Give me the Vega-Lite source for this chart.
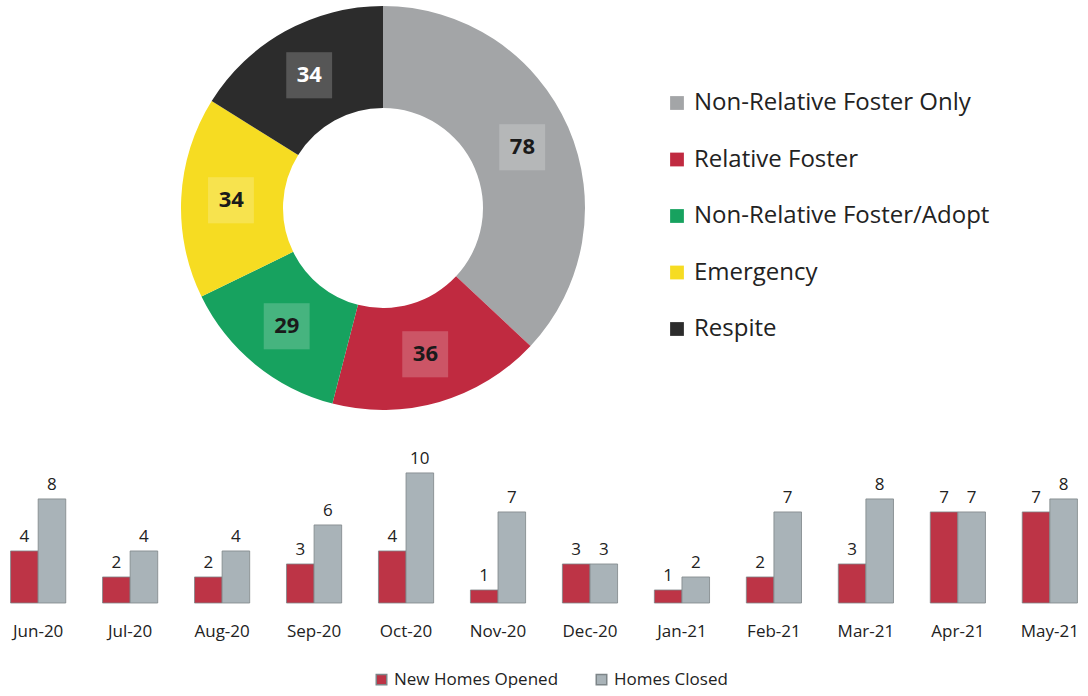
{
  "$schema": "https://vega.github.io/schema/vega-lite/v6.json",
  "padding": 0,
  "spacing": 27,
  "background": "white",
  "config": {"view": {"stroke": null}, "font": "Open Sans"},
  "resolve": {"scale": {"color": "independent"}, "legend": {"color": "independent"}},
  "vconcat": [
    {
      "width": 766,
      "height": 416,
      "data": {"values": [
        {"type": "Non-Relative Foster Only", "count": 78, "order": 1},
        {"type": "Relative Foster", "count": 36, "order": 2},
        {"type": "Non-Relative Foster/Adopt", "count": 29, "order": 3},
        {"type": "Emergency", "count": 34, "order": 4},
        {"type": "Respite", "count": 34, "order": 5}
      ]},
      "encoding": {
        "theta": {"field": "count", "type": "quantitative", "stack": true},
        "order": {"field": "order", "type": "quantitative"}
      },
      "layer": [
        {
          "mark": {"type": "arc", "outerRadius": 202, "innerRadius": 100},
          "encoding": {
            "color": {
              "field": "type", "type": "nominal",
              "sort": ["Non-Relative Foster Only", "Relative Foster", "Non-Relative Foster/Adopt", "Emergency", "Respite"],
              "scale": {
                "domain": ["Non-Relative Foster Only", "Relative Foster", "Non-Relative Foster/Adopt", "Emergency", "Respite"],
                "range": ["#a3a5a7", "#c02a40", "#17a25f", "#f6dc22", "#2c2c2c"]
              },
              "legend": {
                "title": null,
                "orient": "none",
                "direction": "vertical",
                "legendX": 665,
                "legendY": 91,
                "symbolType": "square",
                "symbolSize": 190,
                "symbolStrokeWidth": 0,
                "labelFontSize": 24,
                "labelFont": "Open Sans",
                "labelColor": "#222222",
                "labelLimit": 420,
                "rowPadding": 32.5,
                "labelOffset": 5
              }
            }
          }
        },
        {
          "mark": {"type": "text", "radius": 152, "text": "■", "font": "DejaVu Sans", "fontSize": 60, "color": "white", "opacity": 0.2, "dy": -2},
          "encoding": {}
        },
        {
          "mark": {"type": "text", "radius": 152, "fontSize": 22, "fontWeight": "bold", "font": "Open Sans"},
          "encoding": {
            "text": {"field": "count", "type": "quantitative"},
            "color": {
              "condition": {"test": "datum.type === 'Respite'", "value": "white"},
              "value": "#1a1a1a"
            }
          }
        }
      ]
    },
    {
      "width": 1088,
      "height": 160,
      "data": {"values": [
        {"month": "Jun-20", "series": "New Homes Opened", "value": 4},
        {"month": "Jun-20", "series": "Homes Closed", "value": 8},
        {"month": "Jul-20", "series": "New Homes Opened", "value": 2},
        {"month": "Jul-20", "series": "Homes Closed", "value": 4},
        {"month": "Aug-20", "series": "New Homes Opened", "value": 2},
        {"month": "Aug-20", "series": "Homes Closed", "value": 4},
        {"month": "Sep-20", "series": "New Homes Opened", "value": 3},
        {"month": "Sep-20", "series": "Homes Closed", "value": 6},
        {"month": "Oct-20", "series": "New Homes Opened", "value": 4},
        {"month": "Oct-20", "series": "Homes Closed", "value": 10},
        {"month": "Nov-20", "series": "New Homes Opened", "value": 1},
        {"month": "Nov-20", "series": "Homes Closed", "value": 7},
        {"month": "Dec-20", "series": "New Homes Opened", "value": 3},
        {"month": "Dec-20", "series": "Homes Closed", "value": 3},
        {"month": "Jan-21", "series": "New Homes Opened", "value": 1},
        {"month": "Jan-21", "series": "Homes Closed", "value": 2},
        {"month": "Feb-21", "series": "New Homes Opened", "value": 2},
        {"month": "Feb-21", "series": "Homes Closed", "value": 7},
        {"month": "Mar-21", "series": "New Homes Opened", "value": 3},
        {"month": "Mar-21", "series": "Homes Closed", "value": 8},
        {"month": "Apr-21", "series": "New Homes Opened", "value": 7},
        {"month": "Apr-21", "series": "Homes Closed", "value": 7},
        {"month": "May-21", "series": "New Homes Opened", "value": 7},
        {"month": "May-21", "series": "Homes Closed", "value": 8}
      ]},
      "encoding": {
        "x": {
          "field": "month", "type": "nominal", "sort": null,
          "scale": {"paddingInner": 0.4, "paddingOuter": 0.115},
          "axis": {"title": null, "labelAngle": 0, "domain": false, "ticks": false, "labelPadding": 20, "labelFontSize": 17, "labelFont": "Open Sans", "labelColor": "#222222"}
        },
        "xOffset": {"field": "series", "type": "nominal", "sort": ["New Homes Opened", "Homes Closed"]},
        "y": {"field": "value", "type": "quantitative", "scale": {"domain": [0, 12.3]}, "axis": null}
      },
      "layer": [
        {
          "mark": {"type": "bar", "stroke": "#7d8588", "strokeWidth": 0.8},
          "encoding": {
            "color": {
              "field": "series", "type": "nominal",
              "sort": ["New Homes Opened", "Homes Closed"],
              "scale": {"domain": ["New Homes Opened", "Homes Closed"], "range": ["#bd3446", "#a9b3b8"]},
              "legend": {
                "title": null,
                "orient": "none",
                "direction": "horizontal",
                "legendX": 373,
                "legendY": 228,
                "symbolType": "square",
                "symbolSize": 110,
                "labelFontSize": 17,
                "labelFont": "Open Sans",
                "labelColor": "#222222",
                "labelLimit": 300,
                "columnPadding": 34,
                "labelOffset": 4
              }
            }
          }
        },
        {
          "mark": {"type": "text", "dy": -14, "fontSize": 17, "font": "Open Sans", "color": "#222222"},
          "encoding": {"text": {"field": "value", "type": "quantitative"}}
        }
      ]
    }
  ]
}
